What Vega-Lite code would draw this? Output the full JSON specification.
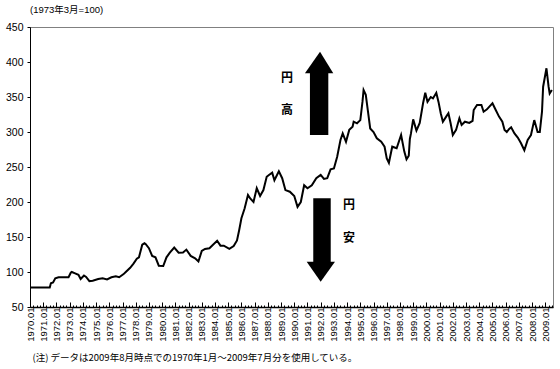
{
  "$schema": "https://vega.github.io/schema/vega-lite/v6.json",
  "width": 523,
  "height": 280,
  "autosize": "none",
  "padding": {"left": 30, "top": 27, "right": 7, "bottom": 62},
  "background": "white",
  "config": {
    "font": "Liberation Sans, Noto Sans CJK JP",
    "view": {"stroke": "#808080", "strokeWidth": 1},
    "axis": {"grid": false, "domainColor": "black", "tickColor": "black", "labelColor": "black", "titleColor": "black", "labelOverlap": false},
    "axisY": {"labelOverlap": false, "labelFontSize": 10.5, "tickSize": 3, "labelPadding": 4}
  },
  "title": {"text": "(1973年3月=100)", "anchor": "start", "frame": "group", "fontSize": 9.5, "fontWeight": "normal", "offset": 8, "color": "black"},
  "datasets": {
    "series": [
      {"d": "1970-01", "v": 78}, {"d": "1971-07", "v": 78}, {"d": "1971-08", "v": 84}, {"d": "1971-10", "v": 85},
      {"d": "1971-12", "v": 91}, {"d": "1972-03", "v": 92.5}, {"d": "1972-12", "v": 92.5}, {"d": "1973-02", "v": 99},
      {"d": "1973-03", "v": 100}, {"d": "1973-06", "v": 98}, {"d": "1973-09", "v": 96}, {"d": "1973-11", "v": 90},
      {"d": "1974-02", "v": 95}, {"d": "1974-04", "v": 93}, {"d": "1974-07", "v": 87}, {"d": "1974-10", "v": 87.6},
      {"d": "1975-03", "v": 90}, {"d": "1975-07", "v": 91}, {"d": "1975-11", "v": 89.5}, {"d": "1976-03", "v": 92.5},
      {"d": "1976-07", "v": 94}, {"d": "1976-10", "v": 92.5}, {"d": "1977-02", "v": 97}, {"d": "1977-04", "v": 100},
      {"d": "1977-08", "v": 106}, {"d": "1977-11", "v": 112}, {"d": "1978-02", "v": 119}, {"d": "1978-04", "v": 121},
      {"d": "1978-07", "v": 139}, {"d": "1978-09", "v": 141}, {"d": "1978-10", "v": 140}, {"d": "1979-01", "v": 134},
      {"d": "1979-04", "v": 123}, {"d": "1979-07", "v": 121}, {"d": "1979-10", "v": 109}, {"d": "1980-02", "v": 108.6},
      {"d": "1980-05", "v": 121}, {"d": "1980-08", "v": 127.6}, {"d": "1980-12", "v": 135}, {"d": "1981-04", "v": 127.6},
      {"d": "1981-08", "v": 128}, {"d": "1981-11", "v": 132}, {"d": "1982-03", "v": 123}, {"d": "1982-07", "v": 119.6},
      {"d": "1982-10", "v": 115}, {"d": "1983-01", "v": 130}, {"d": "1983-04", "v": 133}, {"d": "1983-08", "v": 134},
      {"d": "1983-11", "v": 138.6}, {"d": "1984-03", "v": 144.7}, {"d": "1984-06", "v": 137.6}, {"d": "1984-09", "v": 137.6},
      {"d": "1985-02", "v": 133}, {"d": "1985-06", "v": 137}, {"d": "1985-09", "v": 145}, {"d": "1985-11", "v": 160},
      {"d": "1986-01", "v": 176.7}, {"d": "1986-04", "v": 191}, {"d": "1986-07", "v": 210}, {"d": "1986-09", "v": 205},
      {"d": "1986-12", "v": 200}, {"d": "1987-03", "v": 219.6}, {"d": "1987-06", "v": 208.6}, {"d": "1987-09", "v": 217},
      {"d": "1987-12", "v": 236}, {"d": "1988-02", "v": 238.6}, {"d": "1988-05", "v": 242}, {"d": "1988-07", "v": 231},
      {"d": "1988-11", "v": 244}, {"d": "1989-02", "v": 234}, {"d": "1989-05", "v": 217}, {"d": "1989-09", "v": 214.7},
      {"d": "1990-01", "v": 208.6}, {"d": "1990-04", "v": 193}, {"d": "1990-07", "v": 200}, {"d": "1990-10", "v": 224},
      {"d": "1991-01", "v": 219.6}, {"d": "1991-05", "v": 224}, {"d": "1991-09", "v": 234}, {"d": "1992-01", "v": 238.6},
      {"d": "1992-04", "v": 233}, {"d": "1992-07", "v": 234}, {"d": "1992-10", "v": 246.7}, {"d": "1993-01", "v": 248},
      {"d": "1993-04", "v": 264.7}, {"d": "1993-07", "v": 288.6}, {"d": "1993-09", "v": 298}, {"d": "1993-12", "v": 286},
      {"d": "1994-03", "v": 303}, {"d": "1994-06", "v": 307.6}, {"d": "1994-07", "v": 314.7}, {"d": "1994-10", "v": 312.4},
      {"d": "1995-01", "v": 317}, {"d": "1995-03", "v": 343}, {"d": "1995-04", "v": 360}, {"d": "1995-06", "v": 353},
      {"d": "1995-08", "v": 329}, {"d": "1995-10", "v": 305}, {"d": "1996-01", "v": 300}, {"d": "1996-04", "v": 291},
      {"d": "1996-08", "v": 286}, {"d": "1996-11", "v": 279}, {"d": "1997-01", "v": 262.4}, {"d": "1997-03", "v": 256},
      {"d": "1997-06", "v": 279}, {"d": "1997-10", "v": 276.7}, {"d": "1998-02", "v": 295.7}, {"d": "1998-05", "v": 272},
      {"d": "1998-07", "v": 261}, {"d": "1998-09", "v": 266}, {"d": "1998-10", "v": 290}, {"d": "1998-11", "v": 298},
      {"d": "1999-01", "v": 318}, {"d": "1999-04", "v": 302}, {"d": "1999-07", "v": 313}, {"d": "1999-10", "v": 341},
      {"d": "1999-12", "v": 356}, {"d": "2000-02", "v": 343}, {"d": "2000-05", "v": 350}, {"d": "2000-07", "v": 348},
      {"d": "2000-10", "v": 356}, {"d": "2000-12", "v": 343}, {"d": "2001-02", "v": 326.7}, {"d": "2001-04", "v": 314.7},
      {"d": "2001-07", "v": 322}, {"d": "2001-09", "v": 326.7}, {"d": "2001-11", "v": 312.4}, {"d": "2002-01", "v": 295.7},
      {"d": "2002-04", "v": 303}, {"d": "2002-07", "v": 319.6}, {"d": "2002-09", "v": 310}, {"d": "2002-12", "v": 314.7},
      {"d": "2003-04", "v": 313}, {"d": "2003-07", "v": 316}, {"d": "2003-08", "v": 331.4}, {"d": "2003-11", "v": 338.6},
      {"d": "2004-03", "v": 338.6}, {"d": "2004-05", "v": 329}, {"d": "2004-08", "v": 332.4}, {"d": "2004-10", "v": 336},
      {"d": "2005-01", "v": 341}, {"d": "2005-04", "v": 331.4}, {"d": "2005-07", "v": 322}, {"d": "2005-10", "v": 314.7},
      {"d": "2005-12", "v": 303}, {"d": "2006-02", "v": 300}, {"d": "2006-04", "v": 304}, {"d": "2006-06", "v": 306.7},
      {"d": "2006-09", "v": 298}, {"d": "2006-12", "v": 292}, {"d": "2007-03", "v": 284}, {"d": "2007-06", "v": 274},
      {"d": "2007-09", "v": 288.6}, {"d": "2007-12", "v": 295.7}, {"d": "2008-03", "v": 317}, {"d": "2008-06", "v": 300},
      {"d": "2008-08", "v": 300}, {"d": "2008-10", "v": 329}, {"d": "2008-11", "v": 364.7}, {"d": "2009-02", "v": 391},
      {"d": "2009-04", "v": 364.7}, {"d": "2009-05", "v": 355}, {"d": "2009-07", "v": 360}
    ],
    "shafts": [
      {"d": "1991-03-10", "d2": "1992-07-30", "v": 386, "v2": 295.7},
      {"d": "1991-06-10", "d2": "1992-10-05", "v": 205.3, "v2": 112}
    ],
    "heads": [
      {"arrow": "up", "d": "1990-10-23", "v": 383.9, "v2": 383.9},
      {"arrow": "up", "d": "1991-12-14", "v": 414.7, "v2": 383.9},
      {"arrow": "up", "d": "1992-12-14", "v": 383.9, "v2": 383.9},
      {"arrow": "down", "d": "1990-12-10", "v": 114.7, "v2": 114.7},
      {"arrow": "down", "d": "1992-01-01", "v": 114.7, "v2": 86.1},
      {"arrow": "down", "d": "1993-01-30", "v": 114.7, "v2": 114.7}
    ],
    "labels": [
      {"d": "1989-06-15", "v": 377, "t": "円"},
      {"d": "1989-06-15", "v": 331.4, "t": "高"},
      {"d": "1994-02-20", "v": 195.7, "t": "円"},
      {"d": "1994-02-20", "v": 148.6, "t": "安"}
    ]
  },
  "layer": [
    {
      "data": {"name": "series"},
      "mark": {"type": "line", "color": "black", "strokeWidth": 2},
      "encoding": {
        "x": {
          "field": "d", "type": "temporal",
          "scale": {"type": "utc", "domain": [{"year": 1970, "month": 1, "date": 1, "utc": true}, {"year": 2009, "month": 8, "date": 1, "utc": true}]},
          "axis": {
            "title": "(注) データは2009年8月時点での1970年1月～2009年7月分を使用している。",
            "titleFont": "Noto Sans CJK JP",
            "titleFontSize": 9.5, "titleFontWeight": "normal",
            "titleAnchor": "start", "titleAlign": "left", "titleX": 2, "titleY": 50, "titleBaseline": "middle",
            "tickCount": {"interval": "month", "step": 3},
            "labelExpr": "utcmonth(datum.value) == 0 ? utcFormat(datum.value, '%Y.%m') : ''",
            "labelAngle": -90, "labelFontSize": 9.5, "labelOverlap": false, "labelBound": false, "labelFlush": false,
            "labelLimit": 200,
            "tickSize": {"condition": {"test": "utcmonth(datum.value) == 0", "value": -5}, "value": -2},
            "labelPadding": 5,
            "domainWidth": 1.5
          }
        },
        "y": {
          "field": "v", "type": "quantitative",
          "scale": {"domain": [50, 450], "nice": false, "zero": false},
          "axis": {"title": null, "values": [50, 100, 150, 200, 250, 300, 350, 400, 450], "tickCount": 9, "labelOverlap": false, "labelFlush": false, "labelFontSize": 10.5, "tickSize": 3, "labelPadding": 4}
        }
      }
    },
    {
      "data": {"name": "shafts"},
      "mark": {"type": "rect", "color": "black"},
      "encoding": {
        "x": {"field": "d", "type": "temporal"},
        "x2": {"field": "d2"},
        "y": {"field": "v", "type": "quantitative"},
        "y2": {"field": "v2"}
      }
    },
    {
      "data": {"name": "heads"},
      "mark": {"type": "area", "color": "black", "opacity": 1},
      "encoding": {
        "x": {"field": "d", "type": "temporal"},
        "y": {"field": "v", "type": "quantitative"},
        "y2": {"field": "v2"},
        "detail": {"field": "arrow"}
      }
    },
    {
      "data": {"name": "labels"},
      "mark": {"type": "text", "font": "Noto Sans CJK JP", "fontSize": 12, "fontWeight": "bold", "color": "black"},
      "encoding": {
        "x": {"field": "d", "type": "temporal"},
        "y": {"field": "v", "type": "quantitative"},
        "text": {"field": "t"}
      }
    }
  ]
}
